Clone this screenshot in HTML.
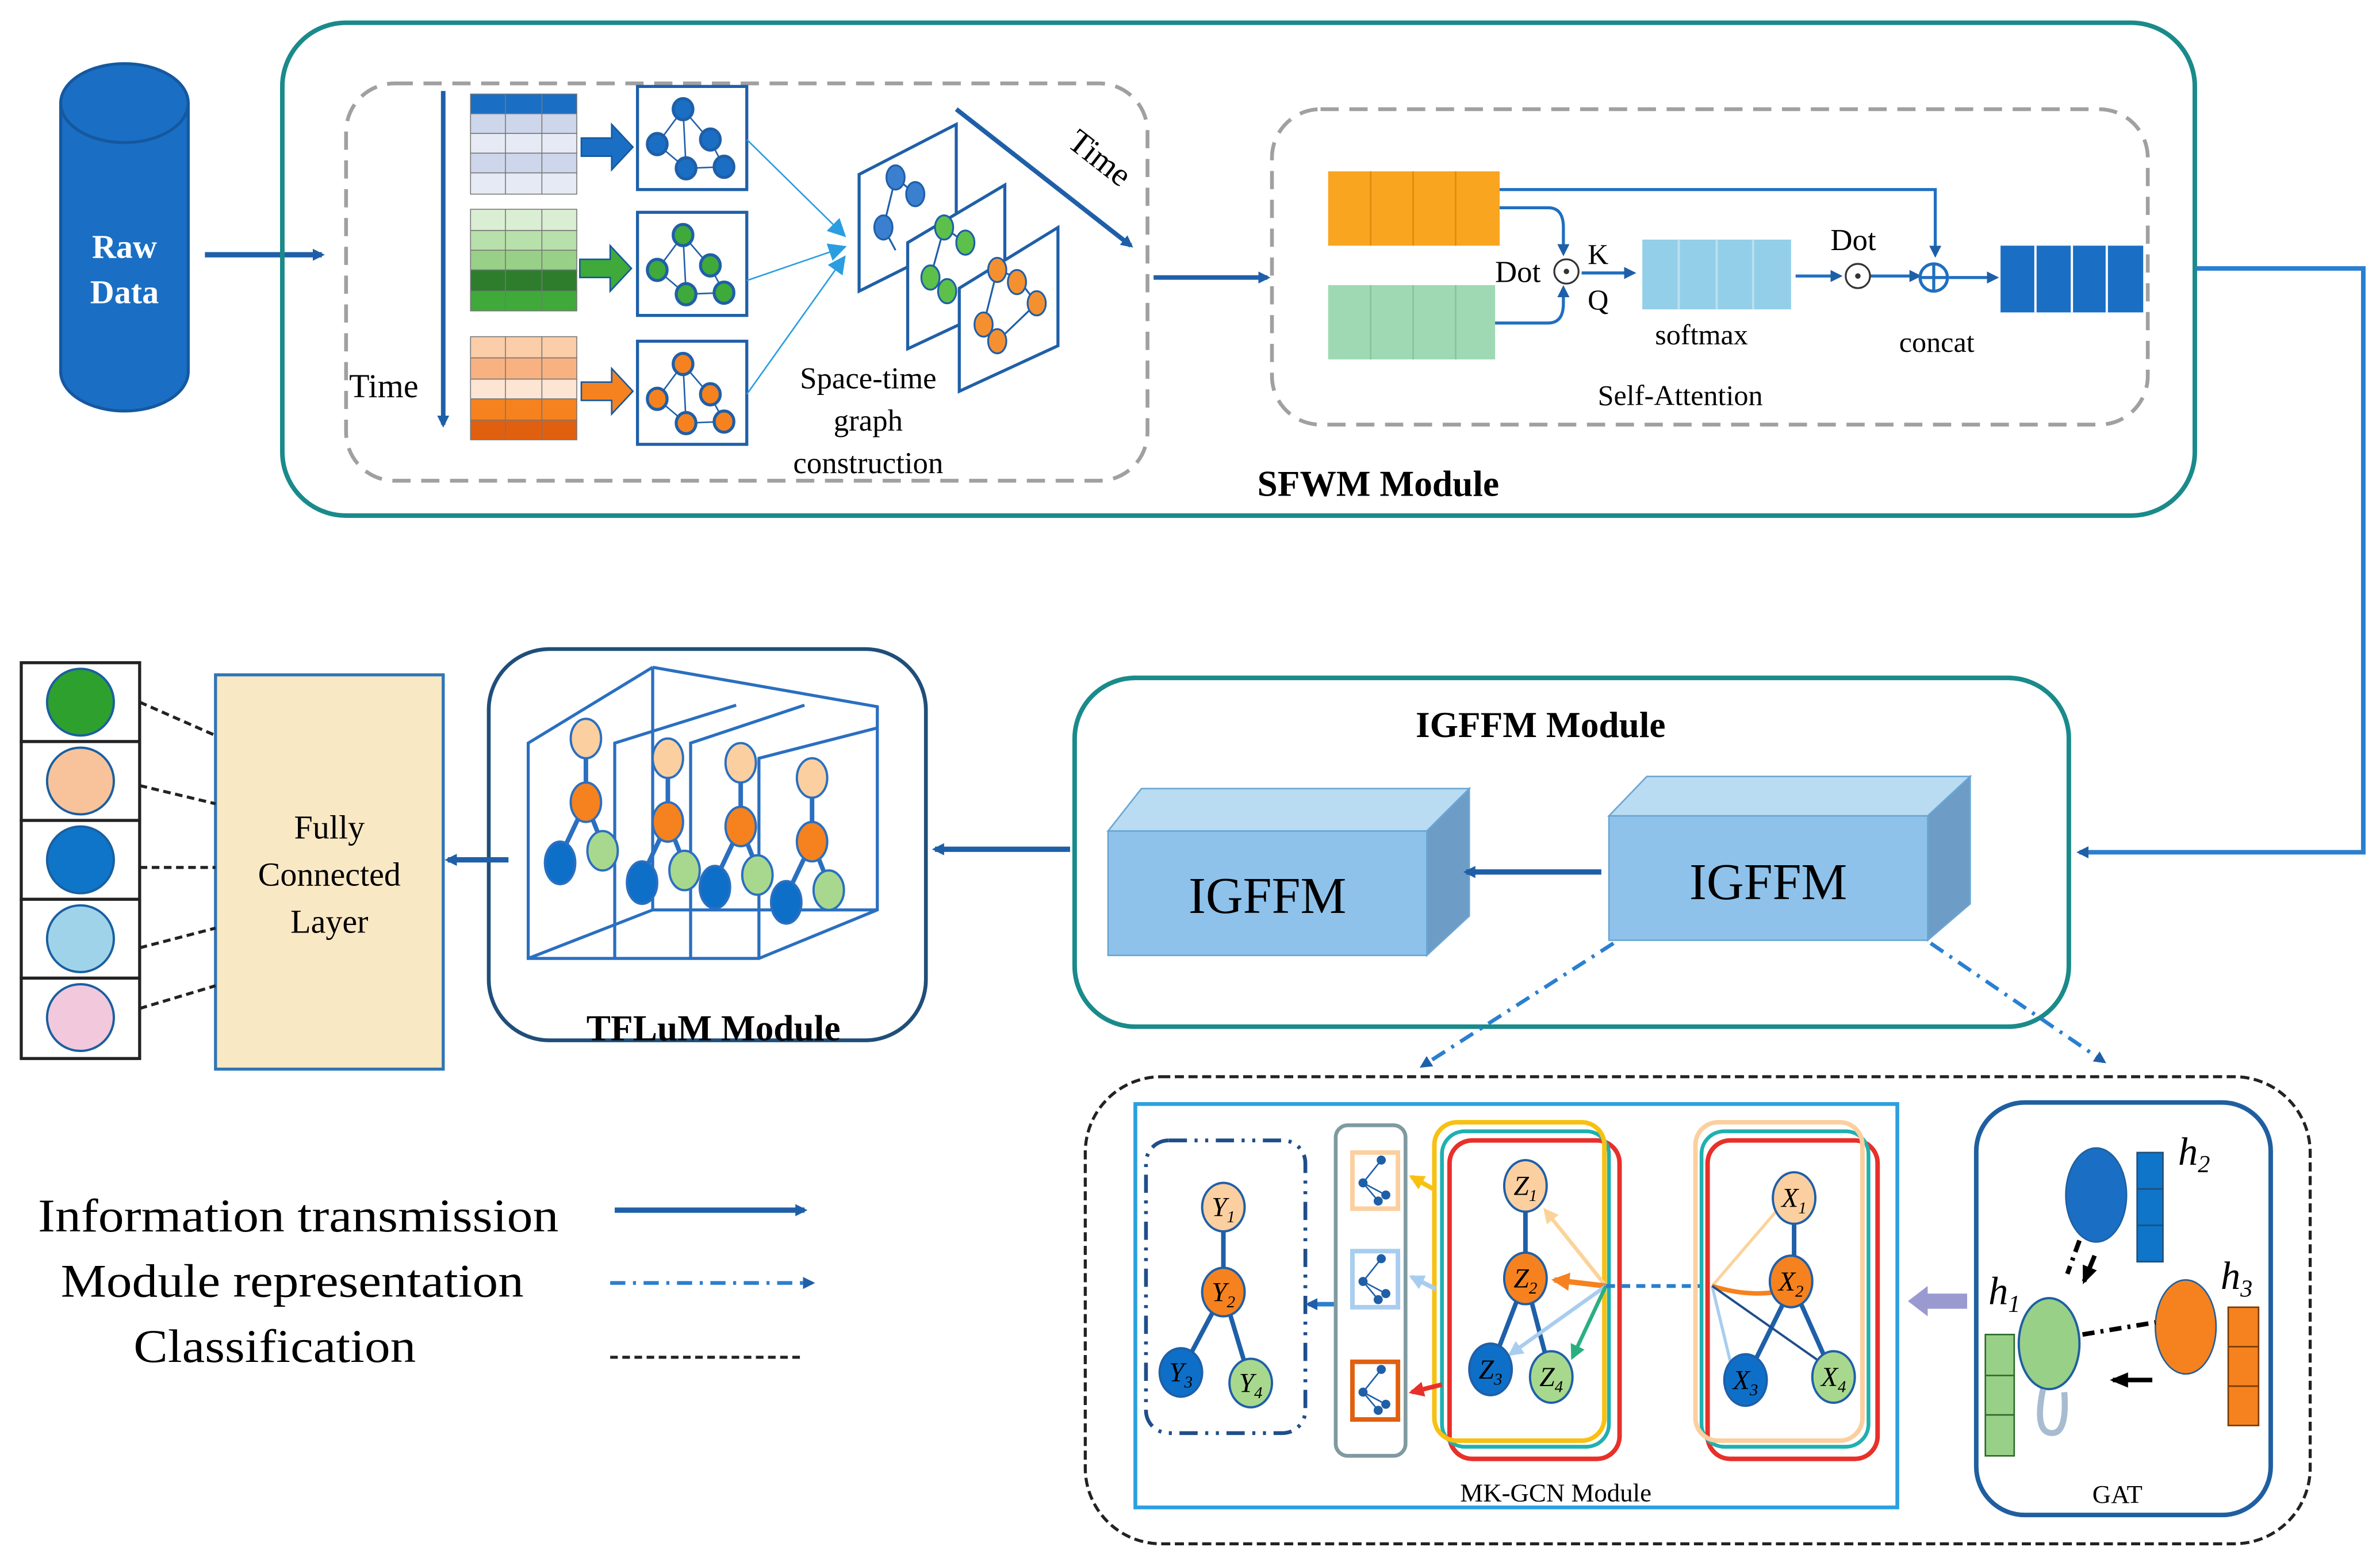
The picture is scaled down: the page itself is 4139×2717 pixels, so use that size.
<!DOCTYPE html>
<html><head><meta charset="utf-8"><style>
html,body{margin:0;padding:0;background:#fff;}
svg{display:block;}
svg text{font-family:"Liberation Serif","Times New Roman",serif;}
</style></head><body>
<svg width="4139" height="2717" viewBox="0 0 1568 1030" preserveAspectRatio="none" xmlns="http://www.w3.org/2000/svg" font-family="Liberation Serif, serif">
<defs>
<marker id="ab" markerWidth="8" markerHeight="8" refX="6" refY="4" orient="auto" markerUnits="userSpaceOnUse"><path d="M0,0 L8,4 L0,8 z" fill="#1f5fa8"/></marker>
<marker id="abl" markerWidth="12" markerHeight="12" refX="10" refY="6" orient="auto" markerUnits="userSpaceOnUse"><path d="M0,0 L12,6 L0,12 z" fill="#2a9ee0"/></marker>
<marker id="ak" markerWidth="12" markerHeight="12" refX="10" refY="6" orient="auto" markerUnits="userSpaceOnUse"><path d="M0,1 L12,6 L0,11 z" fill="#000"/></marker>
<marker id="my" markerWidth="10" markerHeight="10" refX="8" refY="5" orient="auto" markerUnits="userSpaceOnUse"><path d="M0,0 L10,5 L0,10 z" fill="#f8c010"/></marker>
<marker id="mp" markerWidth="10" markerHeight="10" refX="8" refY="5" orient="auto" markerUnits="userSpaceOnUse"><path d="M0,0 L10,5 L0,10 z" fill="#fbd39a"/></marker>
<marker id="mo" markerWidth="12" markerHeight="12" refX="10" refY="6" orient="auto" markerUnits="userSpaceOnUse"><path d="M0,0 L12,6 L0,12 z" fill="#f5821f"/></marker>
<marker id="mlb" markerWidth="10" markerHeight="10" refX="8" refY="5" orient="auto" markerUnits="userSpaceOnUse"><path d="M0,0 L10,5 L0,10 z" fill="#a8cdef"/></marker>
<marker id="mg" markerWidth="10" markerHeight="10" refX="8" refY="5" orient="auto" markerUnits="userSpaceOnUse"><path d="M0,0 L10,5 L0,10 z" fill="#2ab080"/></marker>
<marker id="mr" markerWidth="10" markerHeight="10" refX="8" refY="5" orient="auto" markerUnits="userSpaceOnUse"><path d="M0,0 L10,5 L0,10 z" fill="#e8302a"/></marker>
<g id="gr" stroke="#1f5fa8" stroke-width="2">
<path d="M30,14 L13,37 L32,53 L57,52 L48,35 L30,14 M30,14 L32,53" fill="none" stroke-width="1"/>
<ellipse cx="30" cy="14" rx="6.5" ry="7"/><ellipse cx="48" cy="34" rx="6.5" ry="7"/><ellipse cx="13" cy="37" rx="6.5" ry="7"/><ellipse cx="32" cy="53" rx="6.5" ry="7"/><ellipse cx="57" cy="52" rx="6.5" ry="7"/>
</g>
<g id="tr" stroke="#2a6fc0">
<path d="M0,0 L0,42 L-17,78 M0,42 L11,70" stroke-width="3" fill="none"/>
<ellipse cx="0" cy="0" rx="10" ry="13" fill="#fbcf9f" stroke-width="1.5"/>
<ellipse cx="0" cy="42" rx="10" ry="13" fill="#f5821f" stroke-width="1.5"/>
<ellipse cx="-17" cy="82" rx="10" ry="14" fill="#0e6fc8" stroke-width="1.5"/>
<ellipse cx="11" cy="74" rx="10" ry="13" fill="#a8d88e" stroke-width="1.5"/>
</g>
</defs>

<!-- Raw data cylinder -->
<path d="M40,68 L40,245 A42,26 0 0 0 124,245 L124,68" fill="#1a6fc4" stroke="#1558a0" stroke-width="2"/>
<ellipse cx="82" cy="68" rx="42" ry="26" fill="#1a6fc4" stroke="#1558a0" stroke-width="2"/>
<text x="82" y="170" font-size="22" font-weight="bold" fill="#fff" text-anchor="middle">Raw</text>
<text x="82" y="200" font-size="22" font-weight="bold" fill="#fff" text-anchor="middle">Data</text>
<line x1="135" y1="168" x2="212" y2="168" stroke="#1f5fa8" stroke-width="3.5" marker-end="url(#ab)"/>

<!-- SFWM -->
<rect x="186" y="15" width="1260" height="325" rx="42" fill="none" stroke="#1a8a8a" stroke-width="3"/>
<rect x="228" y="55" width="528" height="262" rx="32" fill="none" stroke="#a0a0a0" stroke-width="2.5" stroke-dasharray="12,7"/>
<line x1="292" y1="60" x2="292" y2="280" stroke="#1f5fa8" stroke-width="3" marker-end="url(#ab)"/>
<text x="230" y="262" font-size="22">Time</text>
<g stroke="#777" stroke-width="0.6">
<rect x="310" y="62" width="70" height="13" fill="#1a6fc4"/><rect x="310" y="75" width="70" height="13" fill="#cdd6ea"/><rect x="310" y="88" width="70" height="13" fill="#e6eaf4"/><rect x="310" y="101" width="70" height="13" fill="#cdd6ea"/><rect x="310" y="114" width="70" height="14" fill="#e6eaf4"/>
<rect x="310" y="138" width="70" height="14" fill="#d9eed2"/><rect x="310" y="152" width="70" height="13" fill="#b8e0aa"/><rect x="310" y="165" width="70" height="13" fill="#98d088"/><rect x="310" y="178" width="70" height="14" fill="#2d7d2d"/><rect x="310" y="192" width="70" height="13" fill="#3fa93a"/>
<rect x="310" y="222" width="70" height="14" fill="#fbcda8"/><rect x="310" y="236" width="70" height="14" fill="#f8b282"/><rect x="310" y="250" width="70" height="13" fill="#fde5d4"/><rect x="310" y="263" width="70" height="14" fill="#f5821f"/><rect x="310" y="277" width="70" height="13" fill="#e06010"/>
<path d="M333,62V128M357,62V128M333,138V205M357,138V205M333,222V290M357,222V290"/>
</g>
<path d="M383,91 h20 v-9 l14,15 l-14,15 v-9 h-20z" fill="#1a6fc4" stroke="#1558a0"/>
<path d="M382,171 h20 v-9 l14,15 l-14,15 v-9 h-20z" fill="#3fa93a" stroke="#1558a0"/>
<path d="M383,252 h20 v-9 l14,15 l-14,15 v-9 h-20z" fill="#f5821f" stroke="#1558a0"/>
<rect x="420" y="57" width="72" height="68" fill="#fff" stroke="#1f5fa8" stroke-width="2"/>
<use href="#gr" x="420" y="58" fill="#1a6fc4"/>
<rect x="420" y="140" width="72" height="68" fill="#fff" stroke="#1f5fa8" stroke-width="2"/>
<use href="#gr" x="420" y="141" fill="#3fa93a"/>
<rect x="420" y="225" width="72" height="68" fill="#fff" stroke="#1f5fa8" stroke-width="2"/>
<use href="#gr" x="420" y="226" fill="#f5821f"/>
<g stroke="#2a9ee0" stroke-width="1"><line x1="492" y1="92" x2="556" y2="155" marker-end="url(#abl)"/><line x1="492" y1="185" x2="556" y2="163" marker-end="url(#abl)"/><line x1="492" y1="260" x2="556" y2="170" marker-end="url(#abl)"/></g>
<g stroke="#1f5fa8" stroke-width="2" fill="#fff">
<path d="M566,115 L630,82 L630,160 L566,192z"/>
<path d="M598,160 L662,122 L662,200 L598,230z"/>
<path d="M632,190 L697,150 L697,228 L632,258z"/>
</g>
<g stroke="#1f5fa8" stroke-width="1.2">
<path d="M590,117 L582,150 L590,165 M590,117 L603,128" fill="none"/>
<ellipse cx="590" cy="117" rx="6" ry="8" fill="#3a7fd0"/><ellipse cx="603" cy="128" rx="6" ry="8" fill="#3a7fd0"/><ellipse cx="582" cy="150" rx="6" ry="8" fill="#3a7fd0"/>
<path d="M622,150 L613,183 L624,192 M622,150 L636,160" fill="none"/>
<ellipse cx="622" cy="150" rx="6" ry="8" fill="#5cc04a"/><ellipse cx="636" cy="160" rx="6" ry="8" fill="#5cc04a"/><ellipse cx="613" cy="183" rx="6" ry="8" fill="#5cc04a"/><ellipse cx="624" cy="192" rx="6" ry="8" fill="#5cc04a"/>
<path d="M657,178 L648,214 L657,225 L683,200 L670,183 L657,178" fill="none"/>
<ellipse cx="657" cy="178" rx="6" ry="8" fill="#f59030"/><ellipse cx="670" cy="186" rx="6" ry="8" fill="#f59030"/><ellipse cx="683" cy="200" rx="6" ry="8" fill="#f59030"/><ellipse cx="648" cy="214" rx="6" ry="8" fill="#f59030"/><ellipse cx="657" cy="225" rx="6" ry="8" fill="#f59030"/>
</g>
<line x1="630" y1="72" x2="745" y2="162" stroke="#1f5fa8" stroke-width="3" marker-end="url(#ab)"/>
<text x="698" y="104" font-size="22" transform="rotate(38 712 106)">Time</text>
<text x="572" y="256" font-size="20" text-anchor="middle">Space-time</text>
<text x="572" y="284" font-size="20" text-anchor="middle">graph</text>
<text x="572" y="312" font-size="20" text-anchor="middle">construction</text>
<line x1="760" y1="183" x2="835" y2="183" stroke="#1f5fa8" stroke-width="3" marker-end="url(#ab)"/>

<!-- self attention -->
<rect x="838" y="72" width="577" height="208" rx="32" fill="none" stroke="#a0a0a0" stroke-width="2.5" stroke-dasharray="12,7"/>
<rect x="875" y="113" width="113" height="49" fill="#f9a51f"/>
<path d="M903,113V162M931,113V162M959,113V162" stroke="#e08a10" stroke-width="1"/>
<rect x="875" y="188" width="110" height="49" fill="#9fd9b4"/>
<path d="M903,188V237M931,188V237M959,188V237" stroke="#86c49c" stroke-width="1"/>
<g stroke="#1f6fc0" stroke-width="2" fill="none">
<path d="M988,125 H1275 V168" marker-end="url(#ab)"/>
<path d="M988,137 H1020 Q1030,137 1030,150 V167" marker-end="url(#ab)"/>
<path d="M985,213 H1020 Q1030,213 1030,200 V190" marker-end="url(#ab)"/>
<line x1="1042" y1="180" x2="1076" y2="180" marker-end="url(#ab)"/>
<line x1="1183" y1="182" x2="1212" y2="182" marker-end="url(#ab)"/>
<line x1="1232" y1="182" x2="1264" y2="182" marker-end="url(#ab)"/>
<line x1="1284" y1="183" x2="1315" y2="183" marker-end="url(#ab)"/>
</g>
<circle cx="1032" cy="179" r="8" fill="#fff" stroke="#333" stroke-width="1.2"/><circle cx="1032" cy="179" r="1.8" fill="#333"/>
<text x="985" y="186" font-size="20">Dot</text>
<text x="1046" y="174" font-size="19">K</text>
<text x="1046" y="204" font-size="19">Q</text>
<rect x="1082" y="158" width="98" height="46" fill="#93cfe8"/>
<path d="M1106,158V204M1131,158V204M1155,158V204" stroke="#b8e0f0" stroke-width="1.5"/>
<text x="1121" y="227" font-size="19" text-anchor="middle">softmax</text>
<circle cx="1224" cy="182" r="8" fill="#fff" stroke="#333" stroke-width="1.2"/><circle cx="1224" cy="182" r="1.8" fill="#333"/>
<text x="1221" y="165" font-size="20" text-anchor="middle">Dot</text>
<circle cx="1274" cy="183" r="9" fill="#fff" stroke="#1f6fc0" stroke-width="2"/><path d="M1265,183h18M1274,174v18" stroke="#1f6fc0" stroke-width="2"/>
<rect x="1318" y="162" width="94" height="44" fill="#1a6fc4"/>
<path d="M1341,162V206M1365,162V206M1388,162V206" stroke="#fff" stroke-width="1.5"/>
<text x="1276" y="232" font-size="19" text-anchor="middle">concat</text>
<text x="1107" y="267" font-size="19" text-anchor="middle">Self-Attention</text>
<text x="908" y="327" font-size="24" font-weight="bold" text-anchor="middle">SFWM Module</text>

<path d="M1447,177 H1557 V562 H1370" fill="none" stroke="#2a7fd0" stroke-width="3" marker-end="url(#ab)"/>

<!-- IGFFM -->
<rect x="708" y="447" width="655" height="230" rx="40" fill="none" stroke="#1a8a8a" stroke-width="3"/>
<text x="1015" y="486" font-size="24" font-weight="bold" text-anchor="middle">IGFFM Module</text>
<path d="M730,548 L752,520 L968,520 L940,548z" fill="#b9dcf2" stroke="#6aa6d4"/>
<path d="M940,548 L968,520 L968,604 L940,630z" fill="#6d9cc6" stroke="#6aa6d4"/>
<rect x="730" y="548" width="210" height="82" fill="#8ec2ea" stroke="#6aa6d4"/>
<text x="835" y="602" font-size="34" text-anchor="middle">IGFFM</text>
<path d="M1060,538 L1085,512 L1298,512 L1270,538z" fill="#b9dcf2" stroke="#6aa6d4"/>
<path d="M1270,538 L1298,512 L1298,596 L1270,620z" fill="#6d9cc6" stroke="#6aa6d4"/>
<rect x="1060" y="538" width="210" height="82" fill="#8ec2ea" stroke="#6aa6d4"/>
<text x="1165" y="593" font-size="34" text-anchor="middle">IGFFM</text>
<line x1="1055" y1="575" x2="966" y2="575" stroke="#1f5fa8" stroke-width="3.5" marker-end="url(#ab)"/>
<line x1="705" y1="560" x2="616" y2="560" stroke="#1f5fa8" stroke-width="3.5" marker-end="url(#ab)"/>
<g stroke="#2a7fd0" stroke-width="2.5" stroke-dasharray="10,5,2,5" fill="none">
<line x1="1063" y1="622" x2="937" y2="703" marker-end="url(#ab)"/>
<line x1="1272" y1="622" x2="1386" y2="700" marker-end="url(#ab)"/>
</g>

<!-- TFLuM -->
<rect x="322" y="428" width="288" height="258" rx="40" fill="none" stroke="#1f4e79" stroke-width="2.5"/>
<g stroke="#2a6fc0" stroke-width="2" fill="none">
<path d="M430,440 L578,466 L578,600 L500,632 L348,632 L348,490 L430,440"/>
<path d="M430,440 L430,600 M405,632 L405,490 L485,465 M455,632 L455,490 L530,465 M500,632 L500,500 L578,480 M348,632 L430,600 L578,600"/>
</g>
<use href="#tr" x="386" y="487"/>
<use href="#tr" x="440" y="500"/>
<use href="#tr" x="488" y="503"/>
<use href="#tr" x="535" y="513"/>
<text x="470" y="686" font-size="24" font-weight="bold" text-anchor="middle">TFLuM Module</text>
<line x1="335" y1="567" x2="295" y2="567" stroke="#1f5fa8" stroke-width="3.5" marker-end="url(#ab)"/>

<!-- FC -->
<rect x="142" y="445" width="150" height="260" fill="#f9e8c4" stroke="#2e75b6" stroke-width="2"/>
<text x="217" y="553" font-size="22" text-anchor="middle">Fully</text>
<text x="217" y="584" font-size="22" text-anchor="middle">Connected</text>
<text x="217" y="615" font-size="22" text-anchor="middle">Layer</text>
<g stroke="#222" stroke-width="2" fill="#fff">
<rect x="14" y="437" width="78" height="52"/><rect x="14" y="489" width="78" height="52"/><rect x="14" y="541" width="78" height="52"/><rect x="14" y="593" width="78" height="52"/><rect x="14" y="645" width="78" height="53"/>
</g>
<g stroke="#1a5fa0" stroke-width="1.5">
<circle cx="53" cy="463" r="22" fill="#2ea02e"/><circle cx="53" cy="515" r="22" fill="#f8c39a"/><circle cx="53" cy="567" r="22" fill="#0e75c8"/><circle cx="53" cy="619" r="22" fill="#9fd3ea"/><circle cx="53" cy="671" r="22" fill="#f2c8dc"/>
</g>
<g stroke="#222" stroke-width="2" stroke-dasharray="5,3">
<line x1="92" y1="463" x2="142" y2="485"/><line x1="92" y1="518" x2="142" y2="530"/><line x1="92" y1="572" x2="142" y2="572"/><line x1="92" y1="625" x2="142" y2="612"/><line x1="92" y1="665" x2="142" y2="650"/>
</g>

<!-- legend -->
<text x="25" y="812" font-size="31" textLength="343" lengthAdjust="spacingAndGlyphs">Information transmission</text>
<text x="40" y="855" font-size="31" textLength="305" lengthAdjust="spacingAndGlyphs">Module representation</text>
<text x="88" y="898" font-size="31" textLength="186" lengthAdjust="spacingAndGlyphs">Classification</text>
<line x1="405" y1="798" x2="530" y2="798" stroke="#1f5fa8" stroke-width="3.5" marker-end="url(#ab)"/>
<line x1="402" y1="846" x2="535" y2="846" stroke="#2a7fd0" stroke-width="2.5" stroke-dasharray="10,5,2,5" marker-end="url(#ab)"/>
<line x1="402" y1="895" x2="530" y2="895" stroke="#222" stroke-width="2" stroke-dasharray="5,3"/>

<!-- bottom box -->
<rect x="715" y="710" width="807" height="308" rx="50" fill="none" stroke="#222" stroke-width="2" stroke-dasharray="6,3"/>
<rect x="748" y="728" width="502" height="266" fill="none" stroke="#2aa0e0" stroke-width="2.5"/>
<text x="1025" y="990" font-size="17" text-anchor="middle">MK-GCN Module</text>
<rect x="755" y="752" width="105" height="193" rx="15" fill="none" stroke="#1f4e8a" stroke-width="2.5" stroke-dasharray="12,5,2,5,2,5"/>
<g stroke="#1f5fa8" stroke-width="3" fill="none"><path d="M806,796 V852 L778,905 M806,852 L824,912"/></g>
<g stroke="#1f5fa8" stroke-width="1.5">
<ellipse cx="806" cy="796" rx="14" ry="16" fill="#fbcf9f"/><ellipse cx="806" cy="852" rx="14" ry="16" fill="#f5821f"/><ellipse cx="778" cy="905" rx="14" ry="16" fill="#0e6fc8"/><ellipse cx="824" cy="912" rx="14" ry="16" fill="#a8d88e"/>
</g>
<g font-style="italic">
<text x="806" y="802" font-size="18" text-anchor="middle">Y<tspan font-size="11" dy="4">1</tspan></text>
<text x="806" y="858" font-size="18" text-anchor="middle">Y<tspan font-size="11" dy="4">2</tspan></text>
<text x="778" y="911" font-size="18" text-anchor="middle">Y<tspan font-size="11" dy="4">3</tspan></text>
<text x="824" y="918" font-size="18" text-anchor="middle">Y<tspan font-size="11" dy="4">4</tspan></text>
</g>
<line x1="880" y1="860" x2="862" y2="860" stroke="#2a7fd0" stroke-width="3" marker-end="url(#ab)"/>
<rect x="880" y="742" width="46" height="218" rx="8" fill="none" stroke="#7f9aa0" stroke-width="2.5"/>
<rect x="891" y="760" width="30" height="37" fill="#fff" stroke="#fbcf9f" stroke-width="3"/>
<rect x="891" y="825" width="30" height="37" fill="#fff" stroke="#a8cdef" stroke-width="3"/>
<rect x="891" y="898" width="30" height="38" fill="#fff" stroke="#e06010" stroke-width="3"/>
<g stroke="#1f5fa8" stroke-width="1" fill="#1f5fa8">
<path d="M910,765 L898,780 L908,792 M898,780 L913,788" fill="none"/><circle cx="910" cy="765" r="2.5"/><circle cx="898" cy="780" r="2.5"/><circle cx="913" cy="788" r="2.5"/><circle cx="908" cy="792" r="2.5"/>
<path d="M910,830 L898,845 L908,857 M898,845 L913,853" fill="none"/><circle cx="910" cy="830" r="2.5"/><circle cx="898" cy="845" r="2.5"/><circle cx="913" cy="853" r="2.5"/><circle cx="908" cy="857" r="2.5"/>
<path d="M910,903 L898,918 L908,930 M898,918 L913,926" fill="none"/><circle cx="910" cy="903" r="2.5"/><circle cx="898" cy="918" r="2.5"/><circle cx="913" cy="926" r="2.5"/><circle cx="908" cy="930" r="2.5"/>
</g>
<!-- Z group -->
<rect x="955" y="752" width="112" height="210" rx="15" fill="none" stroke="#e8302a" stroke-width="3"/>
<rect x="950" y="746" width="110" height="208" rx="15" fill="none" stroke="#20b0b0" stroke-width="2.5"/>
<rect x="945" y="740" width="112" height="210" rx="15" fill="none" stroke="#f8c010" stroke-width="3"/>
<g stroke="#1f5fa8" stroke-width="3" fill="none"><path d="M1005,782 V843 L982,903 M1005,843 L1022,908"/></g>
<g stroke-width="2.5" fill="none">
<line x1="1058" y1="848" x2="1018" y2="798" stroke="#fbd39a" marker-end="url(#mp)"/>
<line x1="1058" y1="848" x2="1024" y2="844" stroke="#f5821f" stroke-width="3.5" marker-end="url(#mo)"/>
<line x1="1058" y1="848" x2="995" y2="893" stroke="#a8cdef" marker-end="url(#mlb)"/>
<line x1="1058" y1="848" x2="1036" y2="895" stroke="#2ab080" marker-end="url(#mg)"/>
<line x1="1058" y1="848" x2="1120" y2="848" stroke="#2a7fd0" stroke-dasharray="6,4"/>
<line x1="946" y1="785" x2="930" y2="776" stroke="#f8c010" stroke-width="3" marker-end="url(#my)"/>
<line x1="946" y1="850" x2="930" y2="842" stroke="#a8cdef" stroke-width="3" marker-end="url(#mlb)"/>
<line x1="950" y1="913" x2="930" y2="918" stroke="#e8302a" stroke-width="3" marker-end="url(#mr)"/>
</g>
<g stroke="#1f5fa8" stroke-width="1.5">
<ellipse cx="1005" cy="782" rx="14" ry="17" fill="#fbcf9f"/><ellipse cx="1005" cy="843" rx="14" ry="17" fill="#f5821f"/><ellipse cx="982" cy="903" rx="14" ry="17" fill="#0e6fc8"/><ellipse cx="1022" cy="908" rx="14" ry="17" fill="#a8d88e"/>
</g>
<g font-style="italic">
<text x="1005" y="788" font-size="18" text-anchor="middle">Z<tspan font-size="11" dy="4">1</tspan></text>
<text x="1005" y="849" font-size="18" text-anchor="middle">Z<tspan font-size="11" dy="4">2</tspan></text>
<text x="982" y="909" font-size="18" text-anchor="middle">Z<tspan font-size="11" dy="4">3</tspan></text>
<text x="1022" y="914" font-size="18" text-anchor="middle">Z<tspan font-size="11" dy="4">4</tspan></text>
</g>
<!-- X group -->
<rect x="1125" y="752" width="112" height="210" rx="15" fill="none" stroke="#e8302a" stroke-width="3"/>
<rect x="1121" y="746" width="110" height="208" rx="15" fill="none" stroke="#20b0b0" stroke-width="2.5"/>
<rect x="1117" y="740" width="110" height="210" rx="15" fill="none" stroke="#fbcf9f" stroke-width="3"/>
<g fill="none">
<path d="M1182,790 V845 L1150,910 M1180,845 L1208,908" stroke="#1f5fa8" stroke-width="3"/>
<line x1="1128" y1="848" x2="1176" y2="792" stroke="#fbd39a" stroke-width="2"/>
<path d="M1128,848 Q1150,855 1170,852" stroke="#f5821f" stroke-width="3"/>
<line x1="1128" y1="848" x2="1140" y2="898" stroke="#a8cdef" stroke-width="2"/>
<line x1="1128" y1="848" x2="1202" y2="900" stroke="#1f4e8a" stroke-width="1.5"/>
</g>
<g stroke="#1f5fa8" stroke-width="1.5">
<ellipse cx="1182" cy="790" rx="14" ry="17" fill="#fbcf9f"/><ellipse cx="1180" cy="845" rx="14" ry="17" fill="#f5821f"/><ellipse cx="1150" cy="910" rx="14" ry="17" fill="#0e6fc8"/><ellipse cx="1208" cy="908" rx="14" ry="17" fill="#a8d88e"/>
</g>
<g font-style="italic">
<text x="1182" y="796" font-size="18" text-anchor="middle">X<tspan font-size="11" dy="4">1</tspan></text>
<text x="1180" y="851" font-size="18" text-anchor="middle">X<tspan font-size="11" dy="4">2</tspan></text>
<text x="1150" y="916" font-size="18" text-anchor="middle">X<tspan font-size="11" dy="4">3</tspan></text>
<text x="1208" y="914" font-size="18" text-anchor="middle">X<tspan font-size="11" dy="4">4</tspan></text>
</g>
<path d="M1296,853 H1270 V848 L1257,858 L1270,868 V863 H1296z" fill="#9a9ad0"/>

<!-- GAT -->
<rect x="1302" y="727" width="194" height="272" rx="32" fill="none" stroke="#1f5fa0" stroke-width="3"/>
<text x="1395" y="991" font-size="17" text-anchor="middle">GAT</text>
<ellipse cx="1381" cy="788" rx="20" ry="31" fill="#1a6fc4" stroke="#1f5fa0"/>
<rect x="1408" y="760" width="17" height="72" fill="#0e75c8" stroke="#1f4e79"/><path d="M1408,784h17M1408,808h17" stroke="#1f4e79"/>
<ellipse cx="1350" cy="886" rx="20" ry="30" fill="#98d088" stroke="#1f5fa0" stroke-width="1.5"/>
<rect x="1308" y="880" width="19" height="80" fill="#98d088" stroke="#2d6a2d"/><path d="M1308,907h19M1308,933h19" stroke="#2d6a2d"/>
<ellipse cx="1440" cy="875" rx="20" ry="31" fill="#f5821f" stroke="#1f5fa0"/>
<rect x="1468" y="862" width="20" height="78" fill="#f5821f" stroke="#7a3a00"/><path d="M1468,888h20M1468,914h20" stroke="#7a3a00"/>
<g stroke="#000" stroke-width="3" fill="none">
<line x1="1370" y1="818" x2="1362" y2="840" stroke-dasharray="8,4,2,4"/>
<line x1="1380" y1="828" x2="1373" y2="845" marker-end="url(#ak)"/>
<line x1="1372" y1="880" x2="1420" y2="872" stroke-dasharray="8,4,2,4"/>
<line x1="1418" y1="910" x2="1392" y2="910" marker-end="url(#ak)"/>
</g>
<path d="M1346,916 Q1340,945 1352,945 Q1362,945 1360,918" fill="none" stroke="#a8bcd0" stroke-width="4"/>
<text x="1435" y="768" font-size="26" font-style="italic">h<tspan font-size="16" dy="5">2</tspan></text>
<text x="1310" y="860" font-size="26" font-style="italic">h<tspan font-size="16" dy="5">1</tspan></text>
<text x="1463" y="850" font-size="26" font-style="italic">h<tspan font-size="16" dy="5">3</tspan></text>
</svg>
</body></html>
